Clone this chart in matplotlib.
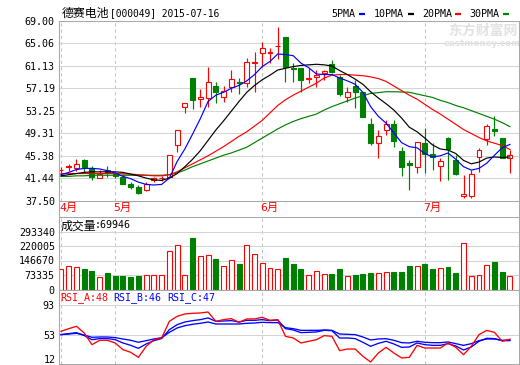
import matplotlib
matplotlib.use("Agg")
import matplotlib.pyplot as plt
from matplotlib.patches import Rectangle
from matplotlib.lines import Line2D
import matplotlib.transforms as mtransforms

# ---------------- data ----------------
TITLE_NAME = "德赛电池"
TITLE_CODE = "[000049] 2015-07-16"
LEGEND_LABELS = ["5PMA", "10PMA", "20PMA", "30PMA"]
MONTH_LABELS = ["4月", "5月", "6月", "7月"]
MONTH_START_INDEX = [0, 7, 26, 47]

OPEN = [42.85, 43.40, 43.20, 44.65, 43.30, 41.55, 42.90, 42.30, 41.75, 40.55,
        39.95, 39.50, 41.15, 41.45, 41.70, 47.30, 53.86, 58.94, 55.30, 55.44,
        57.60, 55.72, 57.47, 58.34, 58.06, 61.70, 63.31, 63.40, 64.55, 66.22,
        60.69, 60.69, 58.76, 59.20, 59.80, 61.39, 59.20, 55.72, 57.59, 56.59,
        50.88, 47.67, 49.89, 50.88, 46.20, 44.17, 43.36, 47.56, 45.69, 43.59,
        48.60, 44.75, 38.34, 38.34, 45.20, 48.30, 50.07, 48.60, 44.93]
HIGH = [43.50, 43.90, 44.80, 44.80, 43.65, 42.90, 43.65, 42.50, 42.20, 40.90,
        40.30, 40.85, 41.70, 41.90, 45.60, 49.90, 54.60, 58.94, 57.00, 60.86,
        58.30, 57.60, 60.39, 59.04, 62.50, 63.60, 65.35, 64.20, 67.90, 66.22,
        61.56, 60.69, 60.69, 60.39, 60.39, 62.14, 59.50, 57.47, 58.64, 56.59,
        52.04, 49.89, 51.64, 51.64, 46.97, 44.60, 47.73, 50.18, 47.56, 45.00,
        48.70, 45.50, 42.00, 43.00, 46.70, 50.88, 52.34, 48.60, 46.40]
LOW = [42.30, 42.70, 42.70, 42.60, 41.15, 41.45, 41.70, 41.50, 40.40, 39.60,
       38.70, 39.20, 40.85, 41.00, 41.45, 46.10, 52.80, 53.60, 53.90, 53.86,
       54.56, 54.80, 56.60, 56.14, 57.50, 56.60, 60.97, 61.56, 62.26, 58.34,
       58.34, 56.60, 58.06, 57.36, 58.64, 59.80, 55.90, 54.84, 53.70, 52.22,
       47.27, 45.05, 49.00, 46.97, 41.80, 39.51, 42.42, 42.40, 42.90, 41.00,
       41.14, 42.00, 38.10, 38.10, 42.60, 47.27, 48.84, 44.93, 42.42]
CLOSE = [42.95, 43.55, 43.95, 43.45, 41.70, 42.30, 42.60, 41.90, 40.55, 39.90,
         38.90, 40.40, 41.45, 41.60, 45.50, 49.90, 54.56, 55.14, 55.60, 58.24,
         56.60, 56.77, 58.76, 58.06, 61.84, 61.80, 64.19, 63.45, 64.65, 60.86,
         60.50, 58.64, 59.04, 59.50, 60.27, 60.10, 56.14, 56.60, 56.59, 52.22,
         47.56, 48.90, 50.88, 47.96, 43.47, 43.76, 47.73, 45.69, 45.22, 44.47,
         46.56, 42.20, 38.70, 42.30, 46.40, 50.64, 49.77, 44.93, 45.52]

MA5 = [42.1, 42.5, 43.0, 43.2, 43.2, 43.1, 42.8, 42.4, 41.8, 41.4,
       40.8, 40.4, 40.3, 40.4, 41.5, 44.4, 46.6, 49.2, 51.9, 54.9,
       56.0, 56.5, 57.2, 57.7, 58.5, 59.6, 61.0, 61.9, 63.2, 63.1,
       62.9, 61.6, 60.8, 59.7, 59.6, 59.6, 59.0, 58.5, 57.9, 56.5,
       54.0, 52.3, 51.1, 49.4, 47.7, 47.0, 46.8, 45.8, 45.2, 45.4,
       45.9, 44.8, 43.5, 42.9, 43.2, 44.1, 45.5, 46.8, 47.4]
MA10 = [41.9, 42.1, 42.3, 42.5, 42.6, 42.6, 42.6, 42.6, 42.5, 42.2,
        41.9, 41.5, 41.2, 41.1, 41.5, 42.3, 43.5, 44.8, 46.3, 48.1,
        49.9, 51.5, 53.2, 54.9, 56.5, 57.7, 58.7, 59.5, 60.4, 60.7,
        61.0, 61.2, 61.3, 61.4, 61.3, 61.1, 60.3, 59.6, 58.8, 57.9,
        56.6, 55.5, 54.5, 53.4, 52.0, 50.4, 49.6, 48.5, 47.3, 46.6,
        46.4, 45.8, 44.6, 44.0, 44.3, 45.0, 45.2, 45.1, 45.2]
MA20 = [42.3, 42.3, 42.3, 42.3, 42.3, 42.3, 42.3, 42.3, 42.25, 42.2,
        42.1, 42.0, 41.9, 41.9, 42.1, 42.6, 43.3, 44.0, 44.7, 45.4,
        46.2, 47.0, 47.9, 48.8, 49.6, 50.6, 51.6, 52.9, 54.2, 55.2,
        56.0, 56.7, 57.4, 58.1, 59.0, 59.5, 59.6, 59.6, 59.5, 59.4,
        59.2, 58.9, 58.4, 57.6, 56.8, 56.0, 55.3, 54.4, 53.5, 52.7,
        51.8, 50.9, 50.0, 49.3, 48.6, 48.0, 47.6, 47.2, 46.5]
MA30 = [41.8, 41.8, 41.9, 41.9, 42.0, 42.0, 42.0, 42.0, 42.0, 42.0,
        42.0, 42.0, 42.0, 42.0, 42.1, 42.4, 42.9, 43.5, 44.0, 44.5,
        45.0, 45.5, 45.9, 46.4, 46.9, 47.7, 48.5, 49.3, 50.1, 50.8,
        51.4, 51.9, 52.3, 52.7, 53.4, 54.0, 54.5, 55.0, 55.5, 55.9,
        56.3, 56.45, 56.6, 56.6, 56.55, 56.5, 56.2, 55.9, 55.6, 55.1,
        54.7, 54.2, 53.8, 53.3, 52.8, 52.3, 51.8, 51.2, 50.5]

VOLUME = [101200, 119300, 114400, 101200, 91400, 62100, 81600, 67000, 67000, 62100,
          67000, 71900, 75300, 75300, 192600, 226800, 71900, 262500, 168200, 173100,
          155000, 119300, 148600, 130500, 226800, 178000, 133900, 109500, 104600, 159900,
          130500, 101200, 75300, 94800, 80200, 76800, 106100, 67000, 71900, 76800,
          81600, 81600, 90000, 86500, 86500, 120800, 119300, 130500, 101200, 111000,
          115900, 81600, 236600, 67000, 71900, 124200, 140300, 86500, 69946]

RSI_A = [58.2, 61.7, 64.8, 56.0, 40.8, 46.5, 46.5, 43.0, 34.3, 30.8,
         24.2, 38.6, 47.3, 49.5, 71.3, 77.8, 80.9, 81.8, 82.2, 83.5,
         71.3, 73.5, 74.8, 70.0, 74.4, 74.4, 76.5, 72.6, 73.5, 51.7,
         49.5, 43.0, 45.2, 47.3, 52.6, 51.7, 33.0, 35.1, 35.1, 25.6,
         18.1, 29.9, 37.3, 29.9, 23.4, 24.2, 39.9, 36.4, 36.4, 36.4,
         43.0, 37.3, 27.7, 38.6, 53.9, 59.5, 56.9, 45.2, 48.0]
RSI_B = [53.9, 55.2, 56.5, 52.6, 47.3, 48.7, 48.7, 47.3, 43.0, 39.9,
         36.0, 41.7, 46.0, 48.7, 60.4, 66.9, 70.4, 72.2, 73.5, 75.7,
         71.3, 71.7, 72.2, 70.4, 72.6, 72.6, 73.5, 72.2, 73.0, 61.7,
         60.0, 56.5, 56.9, 57.4, 59.5, 59.1, 49.5, 49.5, 48.7, 43.9,
         38.6, 42.5, 45.2, 41.7, 37.3, 37.7, 43.0, 40.8, 39.9, 39.9,
         42.1, 39.1, 33.8, 37.7, 45.2, 49.1, 48.7, 46.0, 46.0]
RSI_C = [53.9, 54.7, 55.6, 53.4, 50.4, 50.8, 50.8, 50.0, 48.2, 46.5,
         43.9, 46.0, 48.2, 50.0, 56.9, 62.6, 65.6, 67.4, 68.7, 70.4,
         67.8, 67.8, 67.8, 67.8, 68.7, 69.1, 70.0, 69.6, 69.6, 63.0,
         61.7, 59.5, 59.5, 59.5, 60.0, 59.5, 54.7, 54.3, 53.9, 50.8,
         46.9, 48.2, 48.6, 46.5, 43.4, 43.0, 45.2, 43.9, 43.4, 43.4,
         44.3, 42.1, 39.9, 42.1, 46.0, 48.2, 48.2, 46.5, 47.0]

PRICE_TICKS = [37.5, 41.4375, 45.375, 49.3125, 53.25, 57.1875, 61.125, 65.0625, 69.0]
PRICE_TICK_LABELS = ["37.50", "41.44", "45.38", "49.31", "53.25", "57.19", "61.13", "65.06", "69.00"]
VOL_TICKS = [0, 73335, 146670, 220005, 293340]
VOL_TICK_LABELS = ["0", "73335", "146670", "220005", "293340"]
RSI_TICKS = [53, 93]
RSI_TICK_LABELS = ["53", "93"]

# ---------------- style ----------------
W, H = 520, 365
RED = "#ff0000"
GREEN = "#008000"
BLUE = "#0000ff"
BORDER = "#a8a8a8"
GRID = "#d4d4d4"
DASH = "#c4c4c4"
MONO = "DejaVu Sans Mono"
CJK = "Noto Sans CJK SC"
FS = 7.2

fig = plt.figure(figsize=(W / 100, H / 100), dpi=100)
fig.patch.set_facecolor("white")


def box(top, bottom, left=59, right=519):
    return [left / W, 1 - bottom / H, (right - left) / W, (bottom - top) / H]


ax_p = fig.add_axes(box(20.8, 201))
ax_v = fig.add_axes(box(217, 289.5))
ax_r = fig.add_axes(box(289.5, 364))

n = len(CLOSE)
xs = list(range(n))
XLIM = (-0.26, 59.17)

for ax in (ax_p, ax_v, ax_r):
    ax.set_xlim(*XLIM)
    ax.set_xticks([])
    ax.set_facecolor("white")
    for s in ax.spines.values():
        s.set_color(BORDER)
        s.set_linewidth(0.75)
    ax.tick_params(axis="y", length=0, pad=3, labelsize=FS)
    ax.grid(axis="y", color=GRID, linewidth=0.75)
    ax.set_axisbelow(True)
    for mi in MONTH_START_INDEX:
        ax.axvline(mi, color=DASH, linewidth=0.75, linestyle=(0, (3, 3)), zorder=0.5)

# watermark (inside the price panel, under the marks)
ax_p.text(448 / W, 1 - 31 / H, "东方财富网", transform=fig.transFigure, ha="left",
          va="center", fontsize=10, family=[CJK], color="#e2e2e2",
          fontweight="bold", zorder=1)
ax_p.text(444 / W, 1 - 43 / H, "eastmoney.com", transform=fig.transFigure, ha="left",
          va="center", fontsize=6.3, family=["DejaVu Sans"], color="#e2e2e2",
          fontweight="bold", zorder=1)

# price panel
ax_p.set_ylim(37.5, 69.0)
ax_p.set_yticks(PRICE_TICKS)
ax_p.set_yticklabels(PRICE_TICK_LABELS, fontfamily=MONO, fontsize=FS)

bw = 0.64
for i in xs:
    o, h, l, c = OPEN[i], HIGH[i], LOW[i], CLOSE[i]
    up = c >= o
    col = RED if up else GREEN
    ax_p.vlines(i, l, h, color=col, linewidth=0.85, zorder=2)
    lo, hi = min(o, c), max(o, c)
    hgt = max(hi - lo, 0.12)
    if up:
        ax_p.add_patch(Rectangle((i - bw / 2, lo), bw, hgt, facecolor="white",
                                 edgecolor=col, linewidth=0.8, zorder=2.5))
    else:
        ax_p.add_patch(Rectangle((i - bw / 2, lo), bw, hgt, facecolor=col,
                                 edgecolor=col, linewidth=0.8, zorder=2.5))

ax_p.plot(xs, MA30, color=GREEN, linewidth=0.85, zorder=3)
ax_p.plot(xs, MA20, color=RED, linewidth=0.85, zorder=3)
ax_p.plot(xs, MA10, color="black", linewidth=0.85, zorder=3)
ax_p.plot(xs, MA5, color=BLUE, linewidth=0.85, zorder=3)

# month labels below price panel
trans = mtransforms.blended_transform_factory(ax_p.transData, ax_p.transAxes)
for mi, lab in zip(MONTH_START_INDEX, MONTH_LABELS):
    ax_p.text(mi - 0.2, -0.012, lab, transform=trans, ha="left", va="top",
              color=RED, fontsize=8.2, family=[MONO, CJK])

# volume panel
ax_v.set_ylim(0, 366675)
ax_v.set_yticks(VOL_TICKS)
ax_v.set_yticklabels(VOL_TICK_LABELS, fontfamily=MONO, fontsize=FS)
for i in xs:
    up = CLOSE[i] >= OPEN[i]
    if up:
        ax_v.add_patch(Rectangle((i - bw / 2, 0), bw, VOLUME[i], facecolor="white",
                                 edgecolor=RED, linewidth=0.8, zorder=2))
    else:
        ax_v.add_patch(Rectangle((i - bw / 2, 0), bw, VOLUME[i], facecolor=GREEN,
                                 edgecolor=GREEN, linewidth=0.8, zorder=2))
ax_v.text(0.003, 1 - 3 / 72.5, "成交量", transform=ax_v.transAxes, ha="left", va="top",
          fontsize=8.6, family=[CJK], color="black")
ax_v.text(36 / 460, 1 - 3.5 / 72.5, ":" + str(VOLUME[-1]), transform=ax_v.transAxes,
          ha="left", va="top", fontsize=FS, family=[MONO], color="black")

# RSI panel
ax_r.set_ylim(15.5, 112.9)
ax_r.set_yticks(RSI_TICKS)
ax_r.set_yticklabels(RSI_TICK_LABELS, fontfamily=MONO, fontsize=FS)
ax_r.text(-3 / 460, 4 / 74.5, "12", transform=ax_r.transAxes, ha="right", va="center",
          fontsize=FS, family=[MONO])
ax_r.plot(xs, RSI_C, color=BLUE, linewidth=0.95, zorder=3)
ax_r.plot(xs, RSI_B, color=BLUE, linewidth=0.95, zorder=3)
ax_r.plot(xs, RSI_A, color=RED, linewidth=0.95, zorder=3.5)
rsi_hdr = [("RSI_A:%d" % round(RSI_A[-1]), RED, 60),
           ("RSI_B:%d" % round(RSI_B[-1]), BLUE, 113),
           ("RSI_C:%d" % round(RSI_C[-1]), BLUE, 167)]
for txt, col, px in rsi_hdr:
    fig.text(px / W, 1 - 298 / H, txt, ha="left", va="center", fontsize=FS,
             family=[MONO], color=col)

# title and legend
fig.text(61.5 / W, 1 - 13 / H, TITLE_NAME, ha="left", va="center", fontsize=8.6,
         family=[CJK], color="black")
fig.text(110 / W, 1 - 13 / H, TITLE_CODE, ha="left", va="center", fontsize=6.9,
         family=[MONO], color="black")

leg_cols = [BLUE, "black", RED, GREEN]
leg_text_x = [331.5, 374, 422, 469]
leg_dash_x = [359, 408, 455, 503]
for lab, col, tx, dx in zip(LEGEND_LABELS, leg_cols, leg_text_x, leg_dash_x):
    fig.text(tx / W, 1 - 14 / H, lab, ha="left", va="center", fontsize=FS,
             family=[MONO], color="black")
    fig.add_artist(Line2D([dx / W, (dx + 6) / W], [1 - 14 / H, 1 - 14 / H],
                          color=col, linewidth=1.6, solid_capstyle="butt"))

# outer frame lines spanning the gap between panels
fig.add_artist(Line2D([59 / W, 59 / W], [1 - 20.8 / H, 1 - 364 / H], color=BORDER, linewidth=0.75))
fig.add_artist(Line2D([519 / W, 519 / W], [1 - 20.8 / H, 1 - 364 / H], color=BORDER, linewidth=0.75))

fig.savefig("out.png", dpi=100, facecolor="white")
